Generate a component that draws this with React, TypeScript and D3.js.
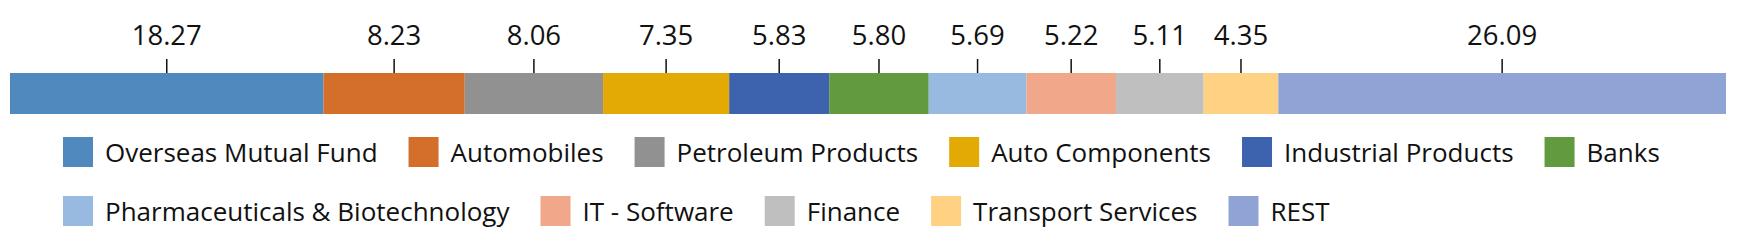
import React, { useEffect, useRef } from 'react';
import * as d3 from 'd3';

const categories = [
  'Overseas Mutual Fund',
  'Automobiles',
  'Petroleum Products',
  'Auto Components',
  'Industrial Products',
  'Banks',
  'Pharmaceuticals & Biotechnology',
  'IT - Software',
  'Finance',
  'Transport Services',
  'REST',
];
const values = [18.27, 8.23, 8.06, 7.35, 5.83, 5.8, 5.69, 5.22, 5.11, 4.35, 26.09];
const valueLabels = ['18.27', '8.23', '8.06', '7.35', '5.83', '5.80', '5.69', '5.22', '5.11', '4.35', '26.09'];
const colors = [
  '#4f89be',
  '#d46f2b',
  '#919191',
  '#e3a904',
  '#3e63ae',
  '#629a3f',
  '#98b9e0',
  '#f0a78a',
  '#bfbfbf',
  '#fed282',
  '#8fa4d5',
];

const W = 1738;
const H = 241;
const FONT = "'Open Sans', 'Noto Sans', sans-serif";

export default function App() {
  const ref = useRef<SVGSVGElement | null>(null);

  useEffect(() => {
    const svg = d3.select(ref.current);
    svg.selectAll('*').remove();

    const total = d3.sum(values);
    const x = d3.scaleLinear().domain([0, total]).range([10, 1726]);
    const ends = Array.from(d3.cumsum(values));
    const starts = ends.map((e, i) => e - values[i]);

    const barTop = 73;
    const barH = 41;
    const tickTop = 59;

    const segs = svg.append('g');
    segs
      .selectAll('rect')
      .data(values)
      .join('rect')
      .attr('x', (_, i) => x(starts[i]))
      .attr('y', barTop)
      .attr('width', (_, i) => x(ends[i]) - x(starts[i]))
      .attr('height', barH)
      .attr('fill', (_, i) => colors[i]);

    const ticks = svg.append('g');
    ticks
      .selectAll('line')
      .data(values)
      .join('line')
      .attr('x1', (_, i) => x(starts[i] + values[i] / 2))
      .attr('x2', (_, i) => x(starts[i] + values[i] / 2))
      .attr('y1', tickTop)
      .attr('y2', barTop)
      .attr('stroke', '#111')
      .attr('stroke-width', 1.5);

    ticks
      .selectAll('text')
      .data(valueLabels)
      .join('text')
      .attr('x', (_, i) => x(starts[i] + values[i] / 2))
      .attr('y', 45)
      .attr('text-anchor', 'middle')
      .attr('font-family', FONT)
      .attr('font-size', 27.5)
      .attr('fill', '#111')
      .text((d) => d);

    // legend flow layout
    const legend = svg.append('g');
    let lx = 63;
    let row = 0;
    const maxX = 1726;
    categories.forEach((c, i) => {
      const g = legend.append('g');
      g.append('rect').attr('x', 0).attr('y', 0).attr('width', 30).attr('height', 30).attr('fill', colors[i]);
      const t = g
        .append('text')
        .attr('x', 42)
        .attr('y', 25)
        .attr('font-family', FONT)
        .attr('font-size', 26)
        .attr('fill', '#111')
        .text(c);
      const w = (t.node() as SVGTextElement).getComputedTextLength();
      const itemW = 42 + w;
      if (lx + itemW > maxX) {
        lx = 63;
        row += 1;
      }
      g.attr('transform', `translate(${lx},${137 + row * 59})`);
      lx += itemW + 31;
    });
  }, []);

  return (
    <svg
      ref={ref}
      width={W}
      height={H}
      style={{ position: 'absolute', left: 0, top: 0, display: 'block', background: '#fff' }}
    />
  );
}
